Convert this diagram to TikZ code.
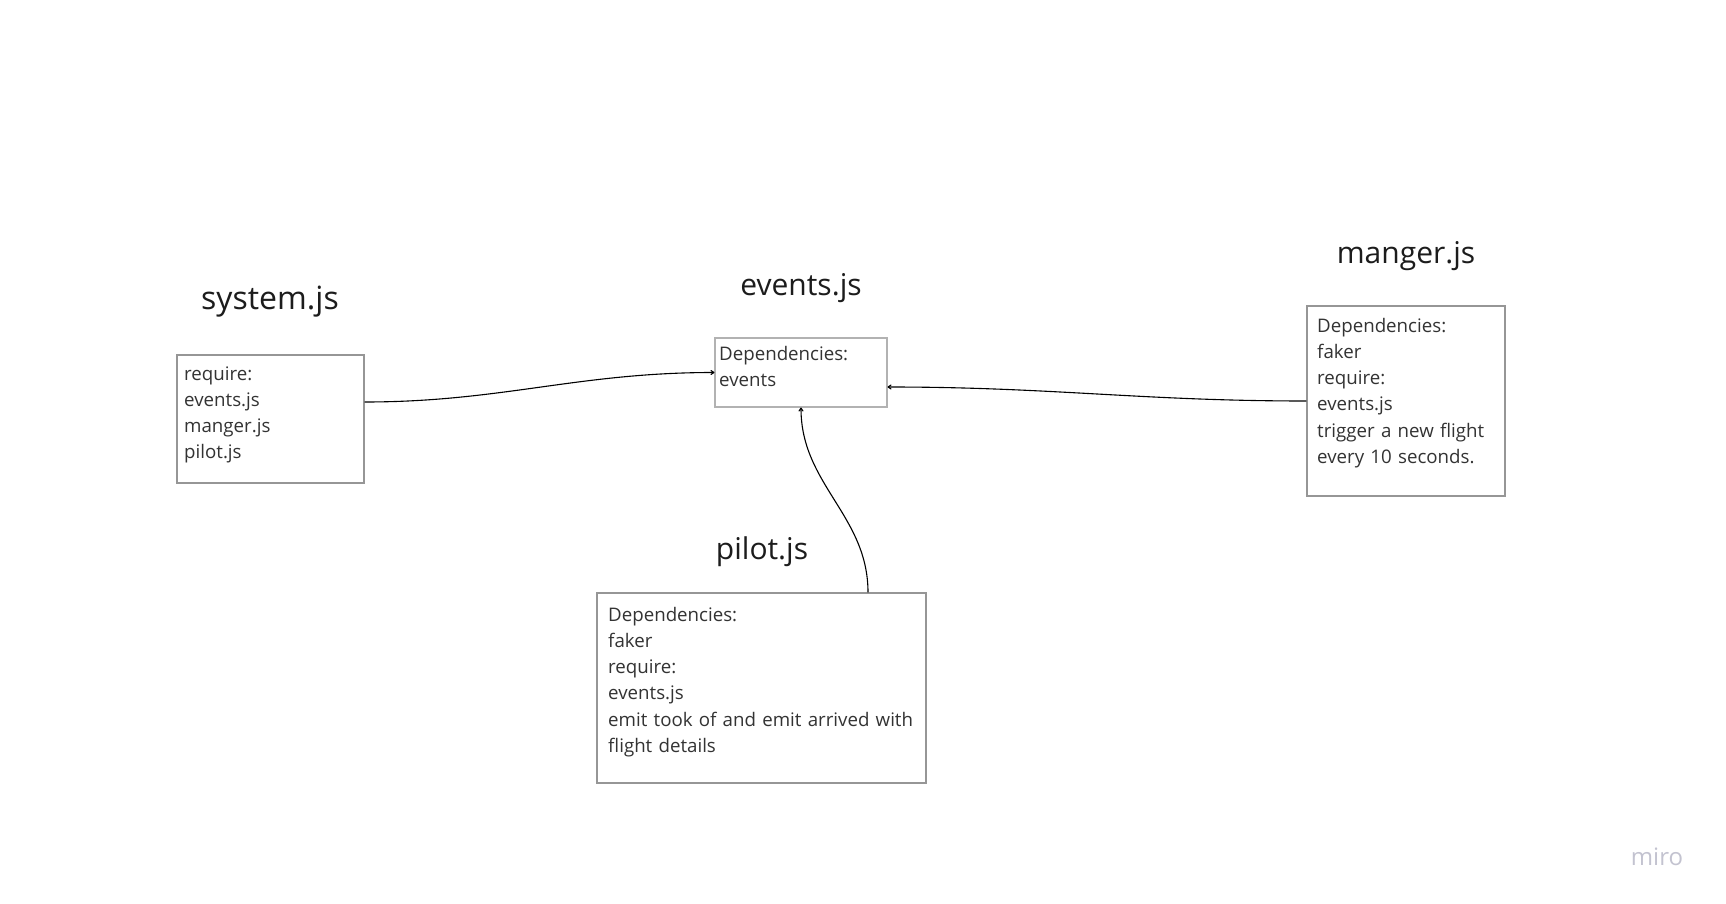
\documentclass[tikz,border=0pt]{standalone}
\usepackage{fontspec}
\setmainfont{Open Sans}
\usetikzlibrary{arrows.meta}
\definecolor{boxline}{RGB}{150,150,150}
\definecolor{boxlinelight}{RGB}{178,178,178}
\definecolor{bodytext}{RGB}{51,51,51}
\definecolor{titletext}{RGB}{28,28,28}
\definecolor{mirogrey}{RGB}{195,195,208}
\tikzset{
  filebox/.style={draw=boxline, line width=1.1pt, rectangle, inner sep=0pt},
  bodytxt/.style={anchor=base west, inner sep=0pt, align=left, text width=340pt,
    text=bodytext, font=\fontsize{18.7}{26.3}\selectfont},
  titletxt/.style={anchor=base, inner sep=0pt, text=titletext, font=\fontsize{30}{36}\selectfont},
  conn/.style={draw=black, line width=1.1pt, -{To[length=4pt,width=5pt]}}
}
\begin{document}
\begin{tikzpicture}[x=1pt,y=-1pt]
\useasboundingbox[fill=white] (0,0) rectangle (1726,904);

% boxes
\node[filebox, minimum width=187pt, minimum height=128pt] (sys) at (270.5,419) {};
\node[filebox, draw=boxlinelight, minimum width=172pt, minimum height=69pt] (evt) at (801,372.5) {};
\node[filebox, minimum width=198pt, minimum height=190pt] (mgr) at (1406,401) {};
\node[filebox, minimum width=329pt, minimum height=190pt] (plt) at (761.5,688) {};

% titles
\node[titletxt, font=\fontsize{32}{38}\selectfont] (systitle) at (270,309) {system.js};
\node[titletxt] (evttitle) at (801,295) {events.js};
\node[titletxt] (mgrtitle) at (1406,263) {manger.js};
\node[titletxt] (plttitle) at (762,559) {pilot.js};

% box texts
\node[bodytxt] (systext) at (184,380) {require:\\events.js\\manger.js\\pilot.js};
\node[bodytxt] (evttext) at (719,360) {Dependencies:\\events};
\node[bodytxt] (mgrtext) at (1317,332) {Dependencies:\\faker\\require:\\events.js\\trigger a new flight\\every 10 seconds.};
\node[bodytxt] (plttext) at (608,621) {Dependencies:\\faker\\require:\\events.js\\emit took of and emit arrived with\\flight details};

% connectors
\draw[conn] ([yshift=17pt]sys.east) to[out=0,in=180] (evt.west);
\draw[conn] (mgr.west) to[out=180,in=0] ([yshift=-14.5pt]evt.east);
\draw[conn] ([xshift=106.5pt]plt.north) to[out=90,in=-90] (evt.south);

% watermark
\node[anchor=base, inner sep=0pt, text=mirogrey, font=\fontsize{24}{28}\selectfont] (miro) at (1657,865) {miro};
\end{tikzpicture}
\end{document}
